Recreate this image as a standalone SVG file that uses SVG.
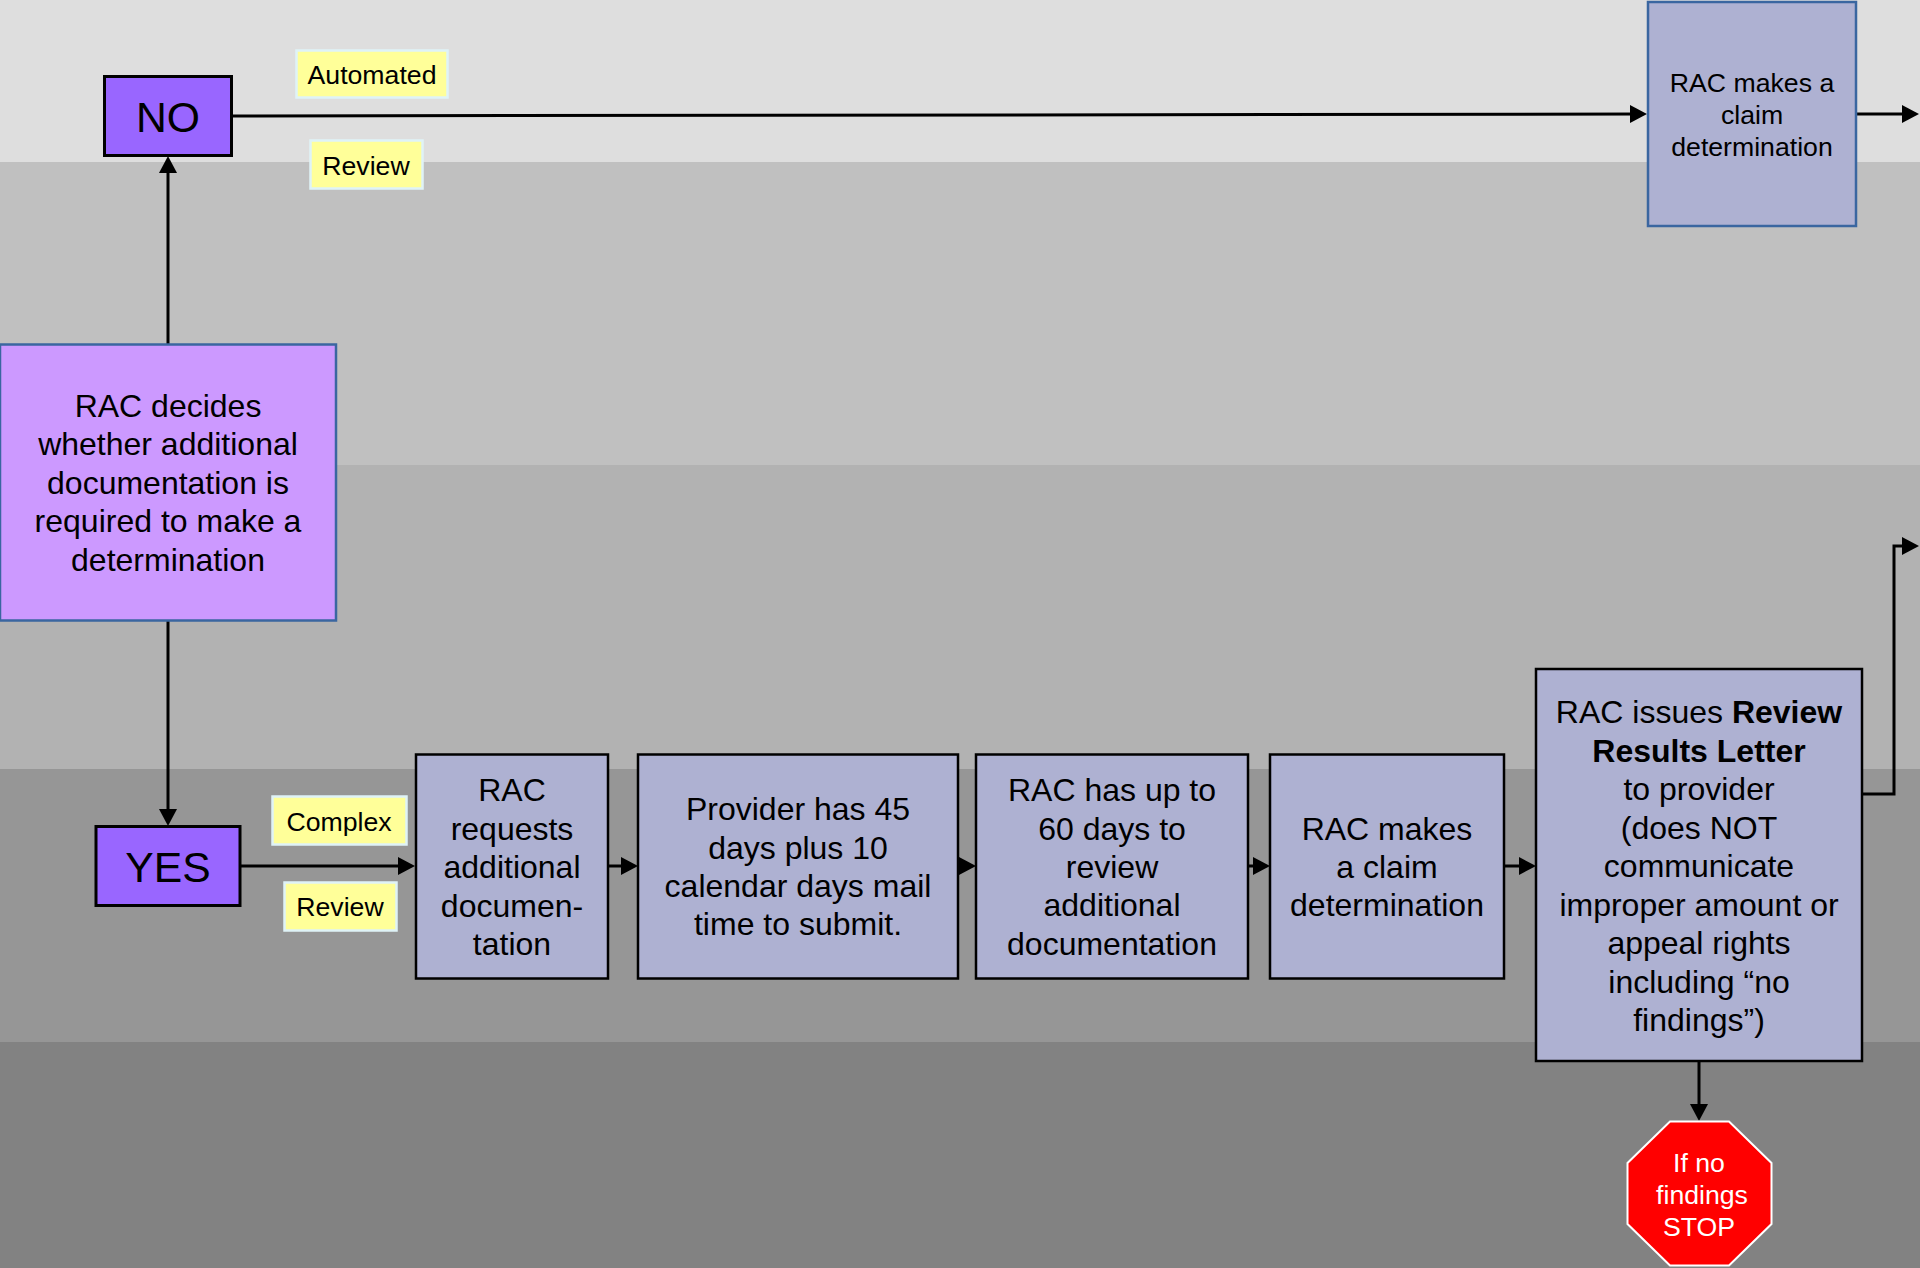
<svg xmlns="http://www.w3.org/2000/svg" width="1920" height="1268" viewBox="0 0 1920 1268">
<style>
text{font-family:"Liberation Sans",Arial,sans-serif;fill:#000;text-anchor:middle}
.m{font-size:32px}.s{font-size:26.67px}.b{font-weight:bold}
.box{fill:#aeb1d2;stroke:#000;stroke-width:2.5}
.blue{fill:#aeb1d2;stroke:#3a66a0;stroke-width:2.5}
.dec{fill:#9966ff;stroke:#000;stroke-width:3}
.lab{fill:#ffff99;stroke:#dff3f7;stroke-width:2.5}
.c{fill:none;stroke:#000;stroke-width:3;marker-end:url(#a)}
</style>
<defs><marker id="a" markerUnits="userSpaceOnUse" markerWidth="17" markerHeight="18" refX="9" refY="9" orient="auto"><path d="M0 0L17 9L0 18Z" fill="#000"/></marker></defs>
<g id="bands">
<rect x="0" y="0" width="1920" height="162" fill="#dedede"/>
<rect x="0" y="162" width="1920" height="303" fill="#c0c0c0"/>
<rect x="0" y="465" width="1920" height="304" fill="#b2b2b2"/>
<rect x="0" y="769" width="1920" height="273" fill="#969696"/>
<rect x="0" y="1042" width="1920" height="226" fill="#828282"/>
</g>
<g id="connectors">
<path class="c" d="M232 116L1639 114"/>
<path class="c" d="M1856 114H1911"/>
<path class="c" d="M168 344V164"/>
<path class="c" d="M168 620V818"/>
<path class="c" d="M240 866H407"/>
<path class="c" d="M608 866H630"/>
<path class="c" d="M958 866H968"/>
<path class="c" d="M1248 866H1262"/>
<path class="c" d="M1504 866H1528"/>
<path class="c" d="M1862 794H1894V546H1911"/>
<path class="c" d="M1699 1061V1113"/>
</g>
<g id="no"><rect class="dec" x="104.500" y="76.500" width="127" height="79"/><text x="168" y="132" font-size="42.670">NO</text></g>
<g id="label-automated"><rect class="lab" x="296.500" y="50.500" width="151" height="47"/><text class="s" x="372" y="84">Automated</text></g>
<g id="label-review-1"><rect class="lab" x="310.500" y="140.500" width="112" height="48"/><text class="s" x="366" y="175">Review</text></g>
<g id="rac-claim-top"><rect class="blue" x="1648" y="2" width="208" height="224"/>
<text class="s" x="1752" y="92">RAC makes a</text><text class="s" x="1752" y="124">claim</text><text class="s" x="1752" y="156">determination</text></g>
<g id="decide"><rect class="blue" x="0" y="344.500" width="336" height="276" style="fill:#cc99ff"/>
<text class="m" x="168" y="417">RAC decides</text><text class="m" x="168" y="455">whether additional</text><text class="m" x="168" y="494">documentation is</text><text class="m" x="168" y="532">required to make a</text><text class="m" x="168" y="571">determination</text></g>
<g id="yes"><rect class="dec" x="96" y="826.500" width="144" height="79"/><text x="168" y="882" font-size="42.670">YES</text></g>
<g id="label-complex"><rect class="lab" x="272.500" y="796.500" width="134" height="48"/><text class="s" x="339" y="831">Complex</text></g>
<g id="label-review-2"><rect class="lab" x="284.500" y="882.500" width="112" height="48"/><text class="s" x="340" y="916">Review</text></g>
<g id="request"><rect class="box" x="416" y="754.500" width="192" height="224"/>
<text class="m" x="512" y="801">RAC</text><text class="m" x="512" y="840">requests</text><text class="m" x="512" y="878">additional</text><text class="m" x="512" y="917">documen-</text><text class="m" x="512" y="955">tation</text></g>
<g id="provider"><rect class="box" x="638" y="754.500" width="320" height="224"/>
<text class="m" x="798" y="820">Provider has 45</text><text class="m" x="798" y="859">days plus 10</text><text class="m" x="798" y="897">calendar days mail</text><text class="m" x="798" y="935">time to submit.</text></g>
<g id="sixty"><rect class="box" x="976" y="754.500" width="272" height="224"/>
<text class="m" x="1112" y="801">RAC has up to</text><text class="m" x="1112" y="840">60 days to</text><text class="m" x="1112" y="878">review</text><text class="m" x="1112" y="916">additional</text><text class="m" x="1112" y="955">documentation</text></g>
<g id="rac-claim"><rect class="box" x="1270" y="754.500" width="234" height="224"/>
<text class="m" x="1387" y="840">RAC makes</text><text class="m" x="1387" y="878">a claim</text><text class="m" x="1387" y="916">determination</text></g>
<g id="letter"><rect class="box" x="1536" y="669" width="326" height="392"/>
<text class="m" x="1699" y="723">RAC issues <tspan class="b">Review</tspan></text><text class="m b" x="1699" y="762">Results Letter</text><text class="m" x="1699" y="800">to provider</text><text class="m" x="1699" y="839">(does NOT</text><text class="m" x="1699" y="877">communicate</text><text class="m" x="1699" y="916">improper amount or</text><text class="m" x="1699" y="954">appeal rights</text><text class="m" x="1699" y="993">including “no</text><text class="m" x="1699" y="1031">findings”)</text></g>
<g id="stop"><polygon points="1670,1121.500 1729,1121.500 1771.500,1163 1771.500,1224 1729,1265.500 1670,1265.500 1627.500,1224 1627.500,1163" fill="#ff0000" stroke="#fff" stroke-width="2"/>
<text class="s" x="1699" y="1172" style="fill:#fff">If no</text><text class="s" x="1702" y="1204" style="fill:#fff">findings</text><text class="s" x="1699" y="1236" style="fill:#fff">STOP</text></g>
</svg>
